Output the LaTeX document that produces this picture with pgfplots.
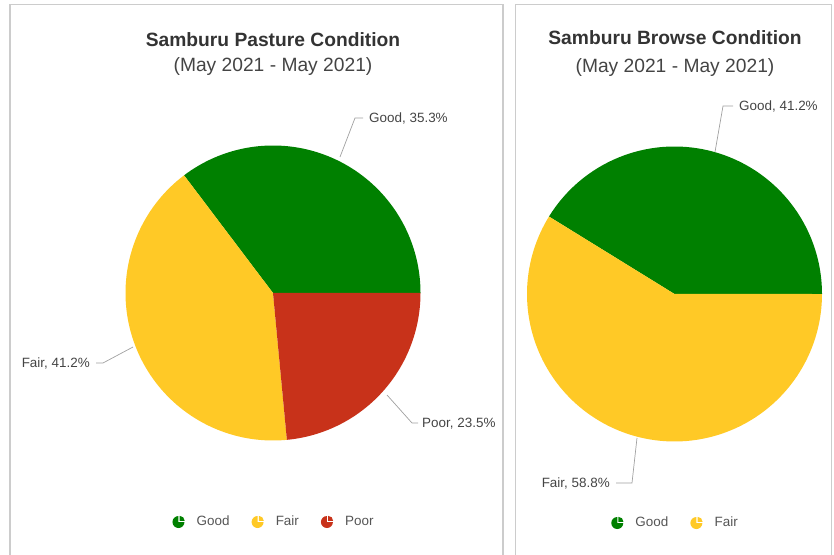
\documentclass[border=0pt]{standalone}
\usepackage{pgfplots}
\pgfplotsset{compat=1.18}
\usepackage{fontspec}
\setmainfont{Liberation Sans}
\definecolor{cgood}{HTML}{008000}
\definecolor{cfair}{HTML}{FFC926}
\definecolor{cpoor}{HTML}{C8321A}
\definecolor{titlegray}{HTML}{333333}
\definecolor{labelgray}{HTML}{444444}
\definecolor{legendgray}{HTML}{555555}
\definecolor{bordergray}{HTML}{CCCCCC}
\definecolor{linegray}{HTML}{A0A0A0}
\pgfplotsset{
  piestyle/.style={
    at={#1}, anchor=center, width=295bp, height=295bp, scale only axis,
    xmin=-1, xmax=1, ymin=-1, ymax=1, hide axis, clip=false,
    legend columns=-1,
    legend style={draw=none, fill=none, at={(0.5,-0.276)}, anchor=center,
      font=\fontsize{13.5}{16}\selectfont, text=legendgray,
      nodes={inner sep=0pt},
      /tikz/every odd column/.append style={column sep=12bp},
      /tikz/every even column/.append style={column sep=22bp}},
    legend image code/.code={
      \fill[##1,draw=none] (6bp,-0.6bp) -- ++(90:6bp) arc[start angle=90,end angle=360,radius=6bp] -- cycle;
      \fill[##1,draw=none] (7.2bp,0.6bp) -- ++(0:5bp) arc[start angle=0,end angle=90,radius=5bp] -- cycle;
    },
  },
  wedge/.style={draw=none, samples=120, variable=\t},
}
\begin{document}
\begin{tikzpicture}
\useasboundingbox (0,0) rectangle (834bp,555bp);
% panels
\draw[bordergray, line width=1.4bp] (10bp,-10bp) -- (10bp,550.5bp) -- (503bp,550.5bp) -- (503bp,-10bp);
\draw[bordergray, line width=1.4bp] (515.5bp,-10bp) -- (515.5bp,550.5bp) -- (831.5bp,550.5bp) -- (831.5bp,-10bp);
% titles
\node[anchor=base, text=titlegray, font=\fontsize{19.3}{23}\selectfont\bfseries, inner sep=0pt] at (273bp,508.3bp) {Samburu Pasture Condition};
\node[anchor=base, text=labelgray, font=\fontsize{19.3}{23}\selectfont, inner sep=0pt] at (273bp,483.3bp) {(May 2021 - May 2021)};
\node[anchor=base, text=titlegray, font=\fontsize{19.3}{23}\selectfont\bfseries, inner sep=0pt] at (675bp,510bp) {Samburu Browse Condition};
\node[anchor=base, text=labelgray, font=\fontsize{19.3}{23}\selectfont, inner sep=0pt] at (675bp,482bp) {(May 2021 - May 2021)};

% left pie: Good 35.3, Fair 41.2, Poor 23.5
\begin{axis}[piestyle={(273bp,262bp)}]
\addplot[wedge, fill=cgood, domain=0:35.3*3.6] ({cos(\t)},{sin(\t)}) -- (axis cs:0,0) -- cycle;
\addlegendentry{Good}
\addplot[wedge, fill=cfair, domain=35.3*3.6:(35.3+41.2)*3.6] ({cos(\t)},{sin(\t)}) -- (axis cs:0,0) -- cycle;
\addlegendentry{Fair}
\addplot[wedge, fill=cpoor, domain=(35.3+41.2)*3.6:(35.3+41.2+23.5)*3.6] ({cos(\t)},{sin(\t)}) -- (axis cs:0,0) -- cycle;
\addlegendentry{Poor}
\end{axis}

% right pie: Good 41.2, Fair 58.8
\begin{axis}[piestyle={(674.5bp,261bp)}]
\addplot[wedge, fill=cgood, domain=0:41.2*3.6] ({cos(\t)},{sin(\t)}) -- (axis cs:0,0) -- cycle;
\addlegendentry{Good}
\addplot[wedge, fill=cfair, domain=41.2*3.6:(41.2+58.8)*3.6] ({cos(\t)},{sin(\t)}) -- (axis cs:0,0) -- cycle;
\addlegendentry{Fair}
\end{axis}

% data labels and connectors
\begin{scope}[every node/.style={text=labelgray, font=\fontsize{13.5}{16}\selectfont, inner sep=0pt}]
\draw[linegray, line width=0.7bp] (340bp,398bp) -- (355bp,437bp) -- (363bp,437bp);
\node[anchor=base west] at (369bp,432.2bp) {Good, 35.3\%};
\draw[linegray, line width=0.7bp] (133bp,208bp) -- (103bp,192bp) -- (96bp,192bp);
\node[anchor=base east] at (90bp,187.2bp) {Fair, 41.2\%};
\draw[linegray, line width=0.7bp] (387bp,160bp) -- (412bp,132bp) -- (418bp,132bp);
\node[anchor=base west] at (422bp,127.2bp) {Poor, 23.5\%};
\draw[linegray, line width=0.7bp] (715bp,403bp) -- (723bp,449bp) -- (733bp,449bp);
\node[anchor=base west] at (739bp,444.2bp) {Good, 41.2\%};
\draw[linegray, line width=0.7bp] (637bp,117bp) -- (632bp,72bp) -- (616bp,72bp);
\node[anchor=base east] at (610bp,67.2bp) {Fair, 58.8\%};
\end{scope}
\end{tikzpicture}
\end{document}
